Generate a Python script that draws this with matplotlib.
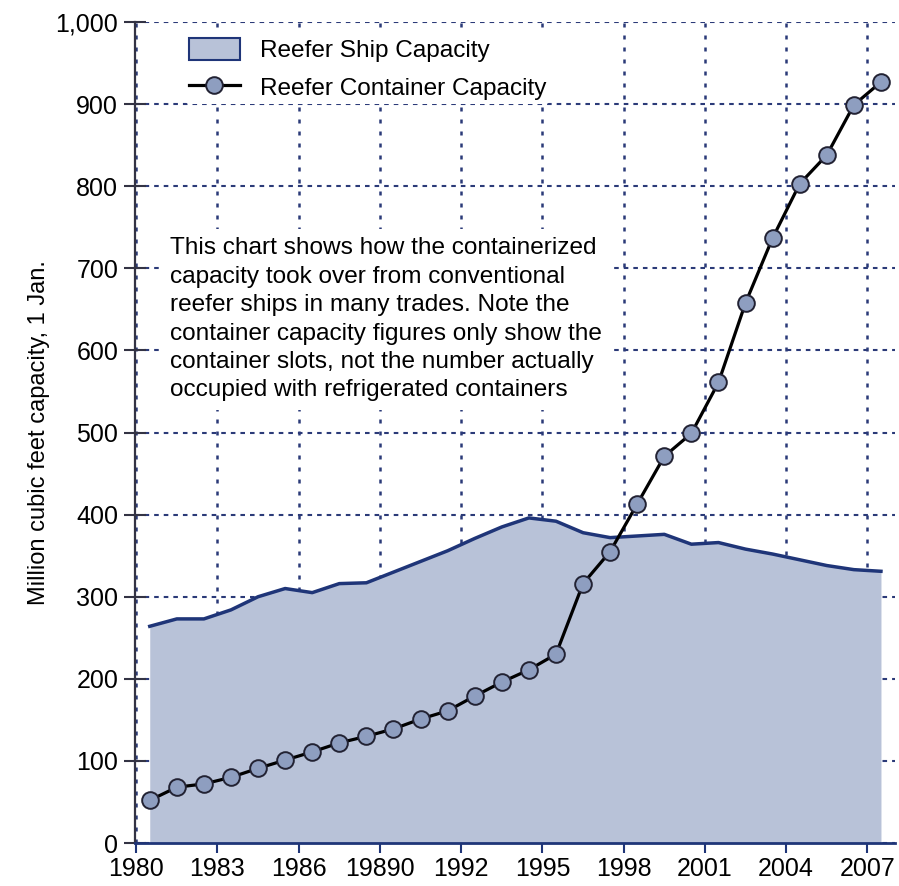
import matplotlib
matplotlib.use("Agg")
import matplotlib.pyplot as plt
import numpy as np
from matplotlib.patches import Patch
from matplotlib.lines import Line2D

plt.rcParams['font.family'] = ['Liberation Sans', 'DejaVu Sans']

years = list(range(1980, 2008))
ship_capacity = [264, 273, 273, 284, 300, 310, 305, 316, 317, 330,
                 343, 356, 371, 385, 396, 392, 378, 372, 374, 376,
                 364, 366, 358, 352, 345, 338, 333, 331]
container_capacity = [52, 68, 72, 80, 91, 101, 111, 122, 130, 139,
                      151, 161, 179, 196, 211, 230, 316, 355, 413, 471,
                      499, 561, 658, 737, 803, 838, 899, 927]
tick_years = [1980, 1983, 1986, 1989, 1992, 1995, 1998, 2001, 2004, 2007]
tick_labels = ['1980', '1983', '1986', '19890', '1992', '1995', '1998', '2001', '2004', '2007']
y_ticks = [0, 100, 200, 300, 400, 500, 600, 700, 800, 900, 1000]
y_labels = ['0', '100', '200', '300', '400', '500', '600', '700', '800', '900', '1,000']

note = ("This chart shows how the containerized\n"
        "capacity took over from conventional\n"
        "reefer ships in many trades. Note the\n"
        "container capacity figures only show the\n"
        "container slots, not the number actually\n"
        "occupied with refrigerated containers")

fill_color = '#b8c2d8'
navy = '#1f3578'
grid_color = '#2b3a78'
marker_face = '#8e9ec0'

fig = plt.figure(figsize=(8.99, 8.86), dpi=100)
ax = fig.add_axes([0.150, 0.0485, 0.845, 0.9266])

x = np.array(years) + 0.5
ax.fill_between(x, 0, ship_capacity, color=fill_color, zorder=2, lw=0)
ax.plot(x, ship_capacity, color=navy, lw=2.5, zorder=3)
ax.plot(x, container_capacity, color='black', lw=2.3, marker='o', ms=12,
        mfc=marker_face, mec='#222233', mew=1.4, zorder=4)

ax.set_xlim(1979.95, 2008.0)
ax.set_ylim(0, 1000)
ax.set_xticks(tick_years)
ax.set_xticklabels(tick_labels, fontsize=18)
ax.set_yticks(y_ticks)
ax.set_yticklabels(y_labels, fontsize=18)
ax.tick_params(axis='y', direction='inout', length=16, width=1.5, color='#333344', pad=4)
ax.tick_params(axis='x', direction='out', length=7, width=1.5, color=navy, pad=3)

ax.yaxis.grid(True, linestyle=(0, (2.2, 2.4)), color=grid_color, lw=1.5, zorder=1)
ax.xaxis.grid(True, linestyle=(0, (1.6, 3.2)), color=grid_color, lw=1.8, zorder=1)
ax.set_axisbelow(True)

for s in ['top', 'right']:
    ax.spines[s].set_visible(False)
ax.spines['left'].set_color('#333344')
ax.spines['left'].set_linewidth(1.6)
ax.spines['bottom'].set_color(navy)
ax.spines['bottom'].set_linewidth(2)

ax.set_ylabel('Million cubic feet capacity, 1 Jan.', fontsize=17, labelpad=4)

ax.text(1981.25, 738, note, fontsize=17.6, va='top', ha='left', linespacing=1.38,
        zorder=5, bbox=dict(facecolor='white', edgecolor='none', pad=6))

handles = [Patch(facecolor=fill_color, edgecolor=navy, lw=1.5),
           Line2D([0], [0], color='black', lw=2.3, marker='o', ms=12,
                  mfc=marker_face, mec='#222233', mew=1.4)]
leg = ax.legend(handles, ['Reefer Ship Capacity', 'Reefer Container Capacity'],
                loc='upper left', bbox_to_anchor=(0.05, 1.0), fontsize=17.6,
                frameon=True, framealpha=1, edgecolor='none', handlelength=2.1,
                handleheight=1.0, labelspacing=0.55, handletextpad=0.8,
                borderpad=0.15)
leg.set_zorder(6)

fig.savefig('out.png', dpi=100, facecolor='white')
